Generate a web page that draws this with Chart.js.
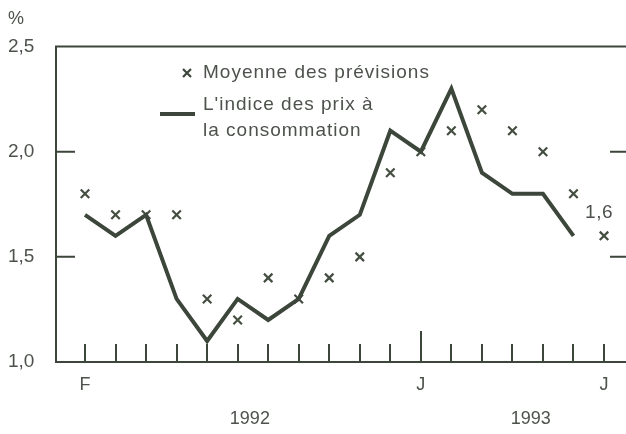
<!DOCTYPE html>
<html>
<head>
<meta charset="utf-8">
<script src="https://cdn.jsdelivr.net/npm/chart.js@4/dist/chart.umd.min.js"></script>
<style>
  html, body { margin: 0; padding: 0; background: #fff; }
  #wrap { width: 626px; height: 434px; position: relative; }
</style>
</head>
<body>
<div id="wrap"><canvas id="chart"></canvas></div>
<script>
// months Feb 1992 -> Jul 1993
const monthLabels = ['F', '', '', '', '', '', '', '', '', '', '', 'J', '', '', '', '', '', 'J'];
const years = ['1992', '1993'];
const yearCenters = [5.4, 14.6];
// L'indice des prix à la consommation
const cpi = [1.7, 1.6, 1.7, 1.3, 1.1, 1.3, 1.2, 1.3, 1.6, 1.7, 2.1, 2.0, 2.3, 1.9, 1.8, 1.8, 1.6];
// Moyenne des prévisions
const forecast = [1.8, 1.7, 1.7, 1.7, 1.3, 1.2, 1.4, 1.3, 1.4, 1.5, 1.9, 2.0, 2.1, 2.2, 2.1, 2.0, 1.8, 1.6];
const yTicks = [1.0, 1.5, 2.0, 2.5];

const ink = '#3c463a';
const textCol = '#4d524c';
const font = "'Liberation Sans', Arial, sans-serif";

const ctx = document.querySelector('#chart');

// frame top line, inner tick marks, legend and end label
const decor = {
    id: 'decor',
    afterDraw(chart) {
        const c = chart.ctx;
        const a = chart.chartArea;
        const x = chart.scales.x, y = chart.scales.y;
        c.save();
        c.strokeStyle = ink;
        c.lineWidth = 2;
        c.beginPath();
        c.moveTo(a.left - 1, a.top);
        c.lineTo(a.right, a.top);
        // month ticks
        monthLabels.forEach((m, i) => {
            const px = Math.round(x.getPixelForValue(i));
            const len = i === 11 ? 31 : 18;
            c.moveTo(px, a.bottom);
            c.lineTo(px, a.bottom - len);
        });
        // y ticks inside left and right
        [1.5, 2.0].forEach(v => {
            const py = y.getPixelForValue(v);
            c.moveTo(a.left, py);
            c.lineTo(a.left + 19, py);
            c.moveTo(a.right - 16, py);
            c.lineTo(a.right, py);
        });
        c.stroke();

        // legend
        c.fillStyle = textCol;
        c.font = '19px ' + font;
        c.letterSpacing = '1px';
        c.textBaseline = 'middle';
        c.textAlign = 'left';
        c.fillText('Moyenne des prévisions', 203, 73);
        c.fillText("L'indice des prix à", 203, 105);
        c.fillText('la consommation', 203, 131);

        c.strokeStyle = ink;
        c.lineWidth = 2.2;
        c.beginPath();
        c.moveTo(183, 69); c.lineTo(191, 77);
        c.moveTo(191, 69); c.lineTo(183, 77);
        c.stroke();
        c.lineWidth = 4;
        c.beginPath();
        c.moveTo(160, 114); c.lineTo(195, 114);
        c.stroke();

        // end label
        const last = forecast.length - 1;
        c.letterSpacing = '0.5px';
        c.textAlign = 'center';
        c.fillText(String(forecast[last]).replace('.', ','), x.getPixelForValue(last) - 5, y.getPixelForValue(forecast[last]) - 23);
        c.restore();
    }
};

const noPad = s => { s.paddingLeft = 0; s.paddingRight = 0; };

new Chart(ctx, {
    type: 'line',
    data: {
        datasets: [{
            label: "L'indice des prix à la consommation",
            data: cpi.map((v, i) => ({ x: i, y: v })),
            borderColor: ink,
            borderWidth: 4,
            pointRadius: 0,
            tension: 0,
            borderJoinStyle: 'miter',
            xAxisID: 'x'
        }, {
            label: 'Moyenne des prévisions',
            data: forecast.map((v, i) => ({ x: i, y: v })),
            showLine: false,
            pointStyle: 'crossRot',
            pointRadius: 6,
            pointBorderWidth: 2.2,
            pointBorderColor: '#444e41',
            xAxisID: 'x'
        }]
    },
    options: {
        animation: false,
        responsive: true,
        maintainAspectRatio: false,
        layout: { autoPadding: false, padding: { left: 8, top: 0, right: 0, bottom: 0 } },
        plugins: {
            legend: { display: false },
            tooltip: { enabled: false },
            title: {
                display: true,
                text: '%',
                align: 'start',
                color: textCol,
                font: { size: 18, family: font, weight: 'normal' },
                padding: { top: 8, bottom: 17 }
            }
        },
        scales: {
            x: {
                type: 'linear',
                position: 'bottom',
                min: -0.95,
                max: 17.72,
                afterBuildTicks: s => { s.ticks = monthLabels.map((m, i) => ({ value: i })); },
                afterFit: s => { s.height = 40; noPad(s); },
                grid: { display: false, drawTicks: false },
                border: { display: true, color: ink, width: 2 },
                ticks: {
                    autoSkip: false,
                    maxRotation: 0,
                    padding: 12,
                    color: textCol,
                    font: { size: 18, family: font },
                    callback: (v, i) => monthLabels[i]
                }
            },
            x2: {
                type: 'linear',
                position: 'bottom',
                min: -0.95,
                max: 17.72,
                afterBuildTicks: s => { s.ticks = yearCenters.map(v => ({ value: v })); },
                afterFit: s => { s.height = 32; noPad(s); },
                grid: { display: false, drawTicks: false },
                border: { display: false },
                ticks: {
                    autoSkip: false,
                    maxRotation: 0,
                    padding: 6,
                    color: textCol,
                    font: { size: 18, family: font },
                    callback: (v, i) => years[i]
                }
            },
            y: {
                min: 1,
                max: 2.5,
                afterBuildTicks: s => { s.ticks = yTicks.map(v => ({ value: v })); },
                afterFit: s => { s.width = 48; },
                grid: { display: false, drawTicks: false },
                border: { display: true, color: ink, width: 2 },
                ticks: {
                    crossAlign: 'far',
                    color: textCol,
                    font: { size: 19, family: font },
                    callback: v => v.toFixed(1).replace('.', ',')
                }
            }
        }
    },
    plugins: [decor]
});
</script>
</body>
</html>
